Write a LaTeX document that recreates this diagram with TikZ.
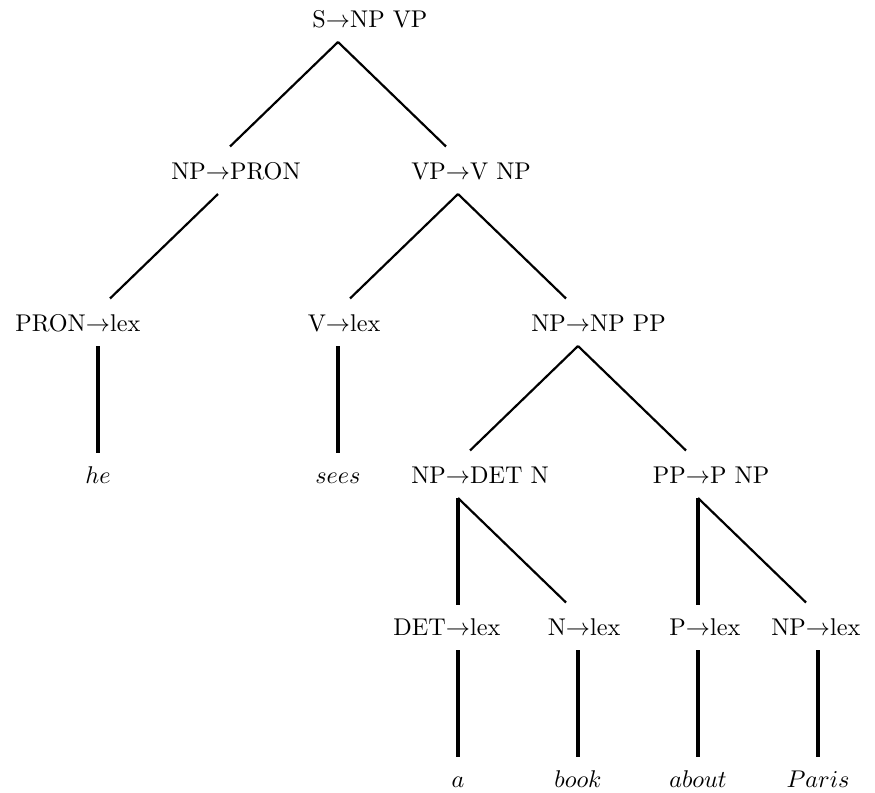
\documentclass[tikz,border=0pt]{standalone}
\usetikzlibrary{calc}
% a rule "LHS -> RHS" whose node is centred on the arrow
\newcommand\prodn[2]{\makebox[0pt][r]{#1}$\rightarrow$\makebox[0pt][l]{#2}}
\begin{document}
\begin{tikzpicture}[x=0.4132pt,y=-0.4132pt,
  cat/.style={anchor=base,inner xsep=0pt,inner ysep=4pt,text height=8pt,text depth=2pt},
  branch/.style={line width=0.9pt},
  stem/.style={line width=1.6pt}]
\useasboundingbox (0,0) rectangle (875,792);

% columns: 98 + 120k, baselines: 27 + 152r
\node[cat] (s)      at (338,27)  {\prodn{S}{NP VP}};
\node[cat] (nppron) at (218,179) {\prodn{NP}{PRON}};
\node[cat] (vp)     at (458,179) {\prodn{VP}{V NP}};
\node[cat] (pronlex) at (98,331) {\prodn{PRON}{lex}};
\node[cat] (vlex)   at (338,331) {\prodn{V}{lex}};
\node[cat] (npnppp) at (578,331) {\prodn{NP}{NP PP}};
\node[cat] (he)     at (98,483)  {$he$};
\node[cat] (sees)   at (338,483) {$sees$};
\node[cat] (npdet)  at (458,483) {\prodn{NP}{DET N}};
\node[cat] (pp)     at (698,483) {\prodn{PP}{P NP}};
\node[cat] (detlex) at (458,635) {\prodn{DET}{lex}};
\node[cat] (nlex)   at (578,635) {\prodn{N}{lex}};
\node[cat] (plex)   at (698,635) {\prodn{P}{lex}};
\node[cat] (nplex)  at (818,635) {\prodn{NP}{lex}};
\node[cat] (a)      at (458,787) {$a$};
\node[cat] (book)   at (578,787) {$book$};
\node[cat] (about)  at (698,787) {$about$};
\node[cat] (paris)  at (818,787) {$Paris$};

% diagonal branches stop a little short of the child
\draw[branch] (s.south) -- ($(nppron.north)+(12,-3)$);
\draw[branch] (s.south) -- ($(vp.north)+(-12,-3)$);
\draw[branch] (nppron.south) -- ($(pronlex.north)+(12,-3)$);
\draw[branch] (vp.south) -- ($(vlex.north)+(12,-3)$);
\draw[branch] (vp.south) -- ($(npnppp.north)+(-12,-3)$);
\draw[branch] (npnppp.south) -- ($(npdet.north)+(12,-3)$);
\draw[branch] (npnppp.south) -- ($(pp.north)+(-12,-3)$);
\draw[branch] (npdet.south) -- ($(nlex.north)+(-12,-3)$);
\draw[branch] (pp.south) -- ($(nplex.north)+(-12,-3)$);

% vertical stems
\draw[stem] (pronlex.south) -- (he.north);
\draw[stem] (vlex.south) -- (sees.north);
\draw[stem] (npdet.south) -- (detlex.north);
\draw[stem] (pp.south) -- (plex.north);
\draw[stem] (detlex.south) -- (a.north);
\draw[stem] (nlex.south) -- (book.north);
\draw[stem] (plex.south) -- (about.north);
\draw[stem] (nplex.south) -- (paris.north);
\end{tikzpicture}
\end{document}
